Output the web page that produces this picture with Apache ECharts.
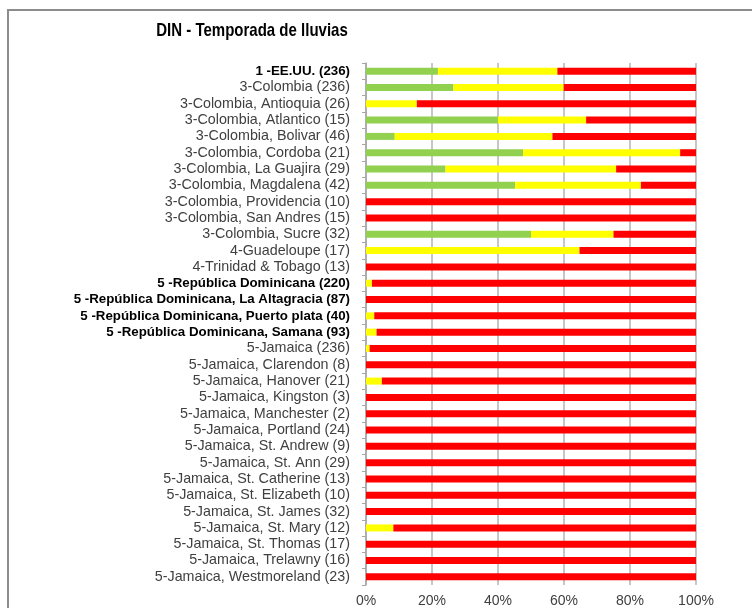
<!DOCTYPE html>
<html>
<head>
<meta charset="utf-8">
<script src="https://cdn.jsdelivr.net/npm/echarts@6/dist/echarts.min.js"></script>
<style>
  html, body { margin: 0; padding: 0; background: #fff; }
  #chart { width: 752px; height: 608px; }
</style>
</head>
<body>
<div id="chart"></div>
<script>
  // categorias (de arriba a abajo)
  var categories = [
    '1 -EE.UU. (236)',
    '3-Colombia (236)',
    '3-Colombia, Antioquia (26)',
    '3-Colombia, Atlantico (15)',
    '3-Colombia, Bolivar (46)',
    '3-Colombia, Cordoba (21)',
    '3-Colombia, La Guajira (29)',
    '3-Colombia, Magdalena (42)',
    '3-Colombia, Providencia (10)',
    '3-Colombia, San Andres (15)',
    '3-Colombia, Sucre (32)',
    '4-Guadeloupe (17)',
    '4-Trinidad & Tobago (13)',
    '5 -República Dominicana (220)',
    '5 -República Dominicana, La Altagracia (87)',
    '5 -República Dominicana, Puerto plata (40)',
    '5 -República Dominicana, Samana (93)',
    '5-Jamaica (236)',
    '5-Jamaica, Clarendon (8)',
    '5-Jamaica, Hanover (21)',
    '5-Jamaica, Kingston (3)',
    '5-Jamaica, Manchester (2)',
    '5-Jamaica, Portland (24)',
    '5-Jamaica, St. Andrew (9)',
    '5-Jamaica, St. Ann (29)',
    '5-Jamaica, St. Catherine (13)',
    '5-Jamaica, St. Elizabeth (10)',
    '5-Jamaica, St. James (32)',
    '5-Jamaica, St. Mary (12)',
    '5-Jamaica, St. Thomas (17)',
    '5-Jamaica, Trelawny (16)',
    '5-Jamaica, Westmoreland (23)'
  ];
  // etiquetas en negrita
  var boldLabels = [
    '1 -EE.UU. (236)',
    '5 -República Dominicana (220)',
    '5 -República Dominicana, La Altagracia (87)',
    '5 -República Dominicana, Puerto plata (40)',
    '5 -República Dominicana, Samana (93)'
  ];

  // porcentajes
  var verde = [21.8, 26.5, 0, 40.0, 8.7, 47.6, 24.1, 45.2, 0, 0, 50.0, 0, 0, 0, 0, 0, 0,
    0, 0, 0, 0, 0, 0, 0, 0, 0, 0, 0, 0, 0, 0, 0];
  var amarillo = [36.2, 33.4, 15.4, 26.7, 47.8, 47.6, 51.7, 38.1, 0, 0, 25.0, 64.7, 0, 1.8, 0, 2.5, 3.2,
    1.1, 0, 4.8, 0, 0, 0, 0, 0, 0, 0, 0, 8.3, 0, 0, 0];
  var rojo = [42.0, 40.1, 84.6, 33.3, 43.5, 4.8, 24.2, 16.7, 100, 100, 25.0, 35.3, 100, 98.2, 100, 97.5, 96.8,
    98.9, 100, 95.2, 100, 100, 100, 100, 100, 100, 100, 100, 91.7, 100, 100, 100];

  var xTicks = [0, 20, 40, 60, 80, 100];

  var chartObj = echarts.init(document.getElementById('chart'));

  function serie(name, data, color) {
    return {
      name: name,
      type: 'bar',
      stack: 'total',
      barWidth: 7,
      data: data,
      itemStyle: { color: color },
      emphasis: { disabled: true }
    };
  }

  var option = {
    backgroundColor: '#fff',
    animation: false,
    textStyle: { fontFamily: '"Liberation Sans", Arial, sans-serif' },
    graphic: [{
      type: 'rect',
      shape: { x: 8, y: 10, width: 760, height: 620 },
      style: { fill: null, stroke: '#8c8c8c', lineWidth: 2 },
      silent: true
    }, {
      // titulo un poco condensado como en el original
      type: 'text',
      x: 252,
      y: 31,
      scaleX: 0.79,
      silent: true,
      style: {
        text: 'DIN - Temporada de lluvias',
        fill: '#000',
        font: 'bold 19px "Liberation Sans", Arial, sans-serif',
        textAlign: 'center',
        textVerticalAlign: 'middle'
      }
    }],
    grid: {
      left: 366,
      right: 56,
      top: 63,
      bottom: 23,
      containLabel: false
    },
    xAxis: {
      type: 'value',
      min: 0,
      max: 100,
      interval: 20,
      axisLine: { show: false },
      axisTick: { show: false },
      splitLine: { show: true, lineStyle: { color: '#b3b3b3', width: 1.5 } },
      axisLabel: {
        color: '#404040',
        fontSize: 14,
        margin: 9,
        formatter: function (v) {
          return xTicks.indexOf(v) >= 0 ? v + '%' : '';
        }
      }
    },
    yAxis: {
      type: 'category',
      inverse: true,
      data: categories,
      axisLine: { show: true, lineStyle: { color: '#a6a6a6', width: 1.5 } },
      axisTick: { show: true, length: 4, lineStyle: { color: '#a6a6a6' } },
      axisLabel: {
        margin: 16,
        interval: 0,
        formatter: function (v) {
          return boldLabels.indexOf(v) >= 0 ? '{b|' + v + '}' : '{n|' + v + '}';
        },
        rich: {
          b: { fontSize: 13.3, fontWeight: 'bold', color: '#000' },
          n: { fontSize: 14.3, color: '#404040' }
        }
      }
    },
    series: [
      serie('Verde', verde, '#92d050'),
      serie('Amarillo', amarillo, '#ffff00'),
      serie('Rojo', rojo, '#ff0000')
    ]
  };

  chartObj.setOption(option, true);
</script>
</body>
</html>
